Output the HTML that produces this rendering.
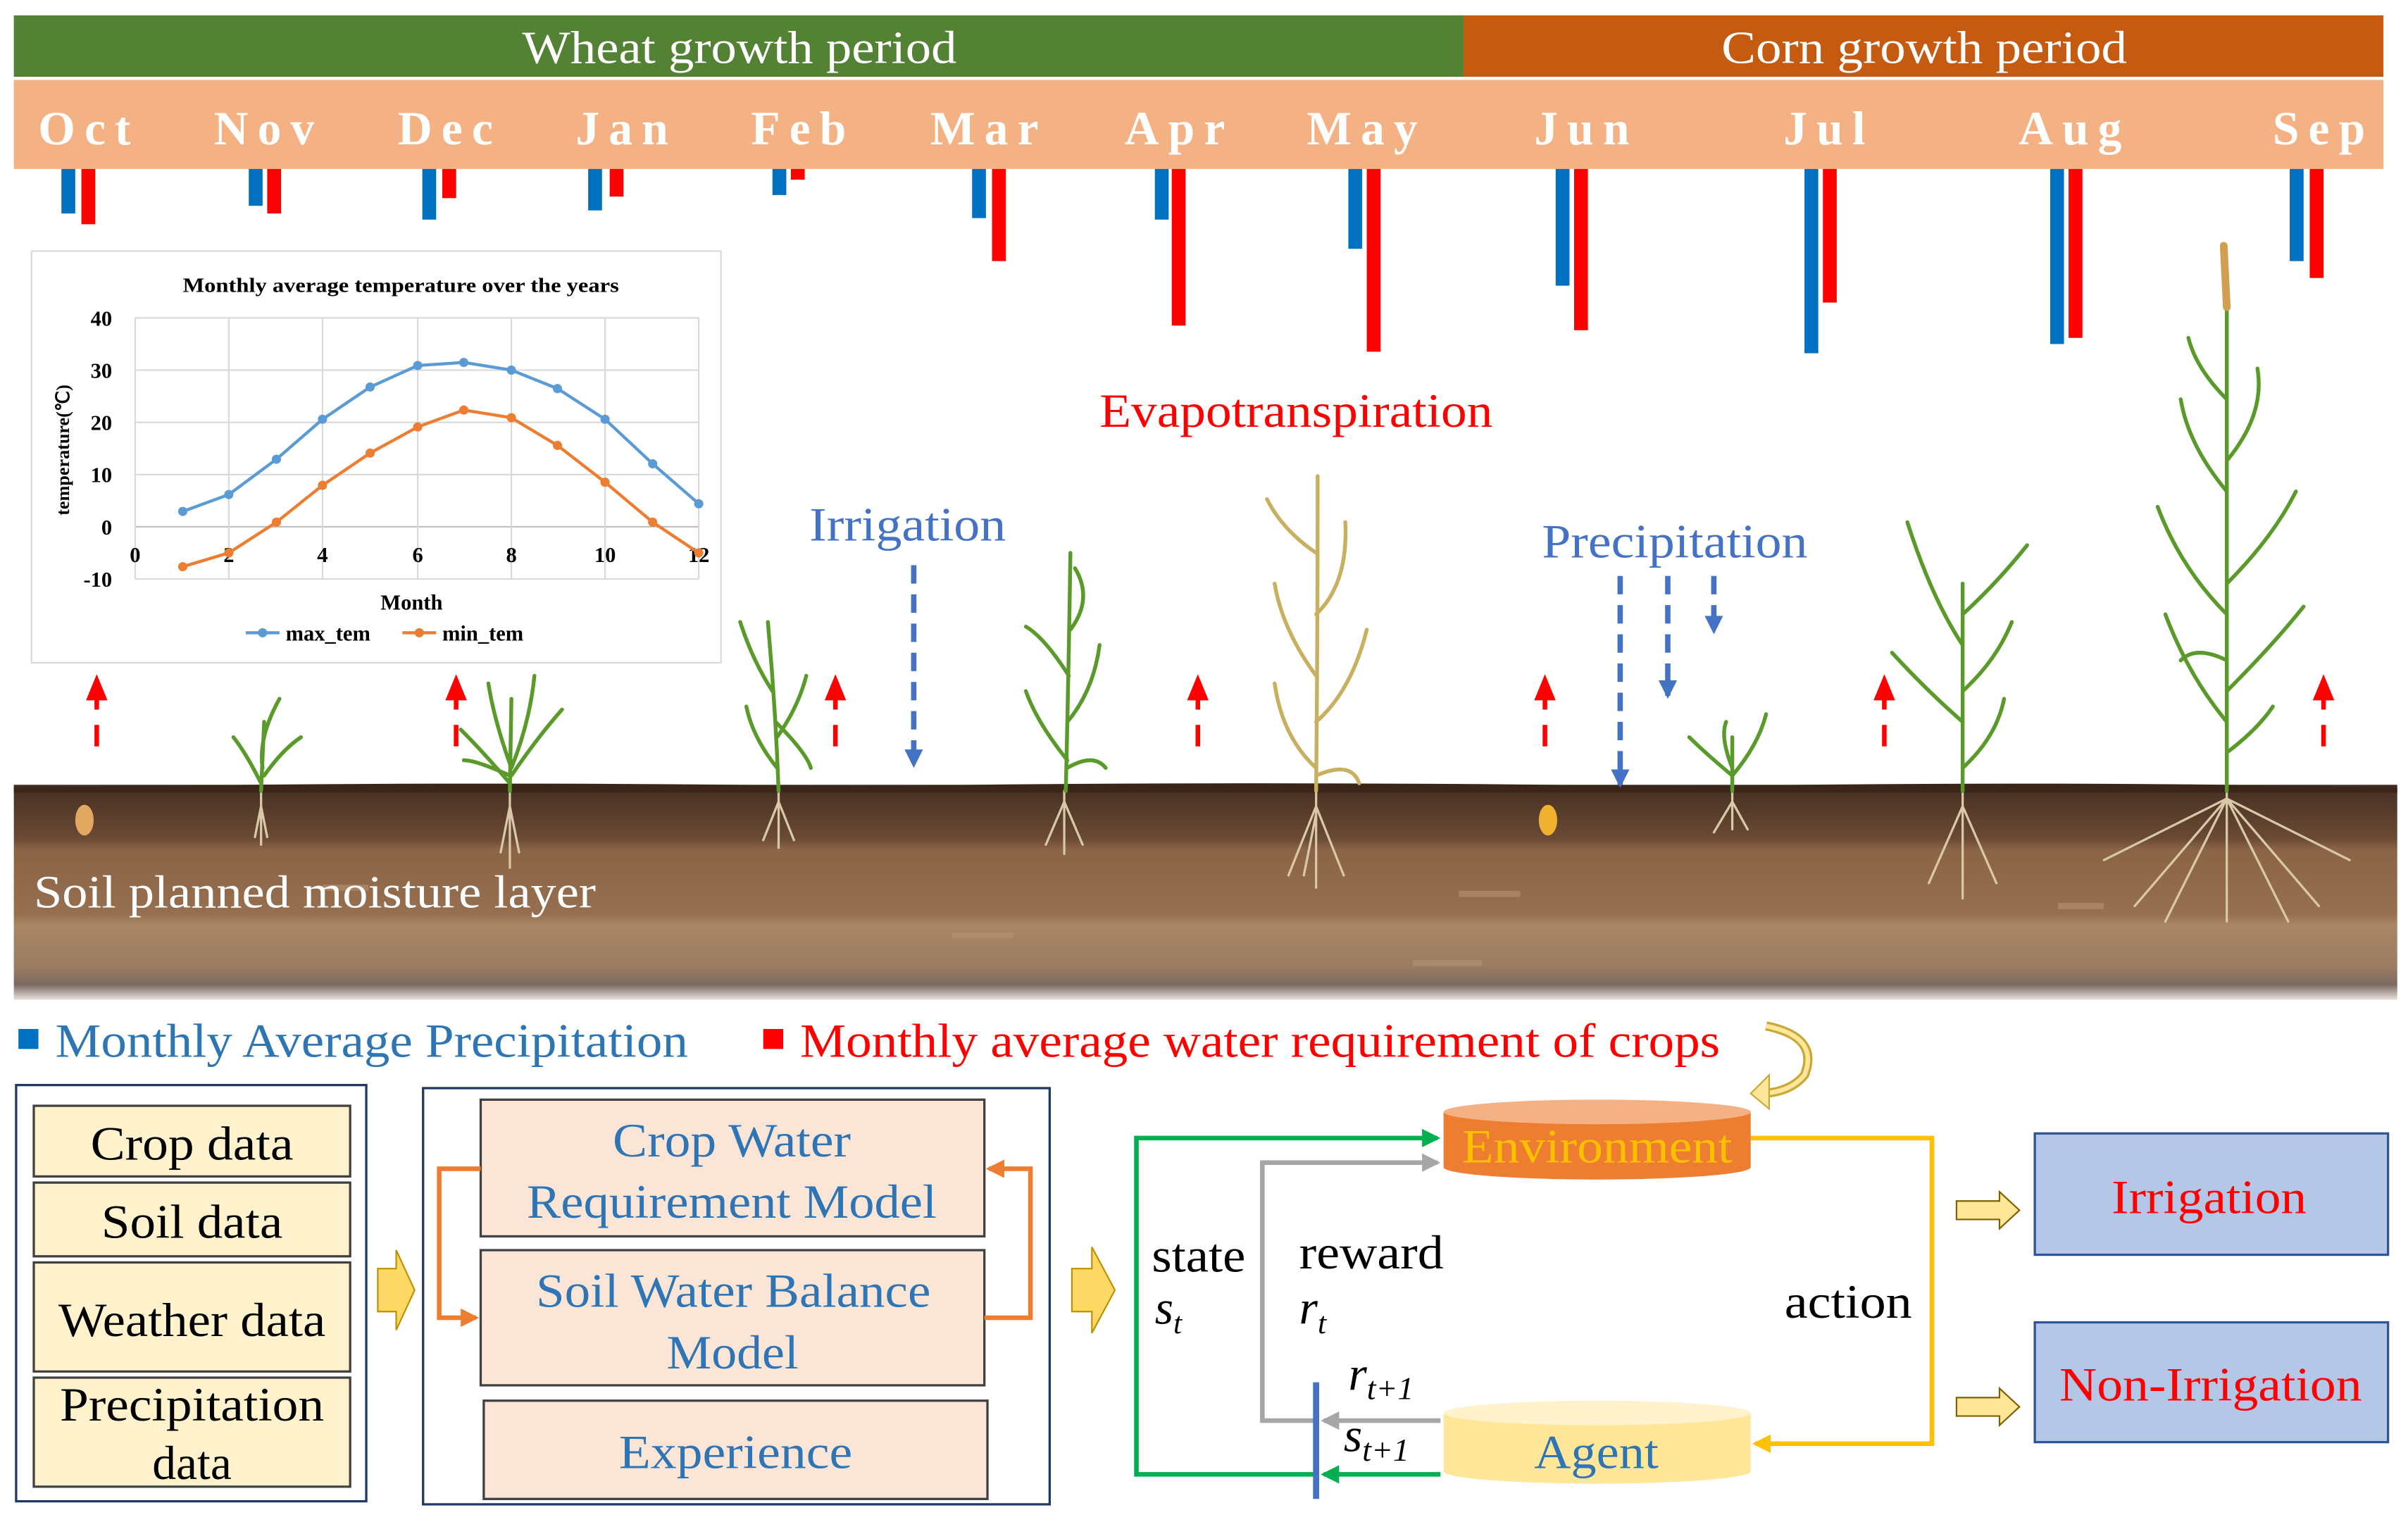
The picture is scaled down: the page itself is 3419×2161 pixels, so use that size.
<!DOCTYPE html>
<html><head><meta charset="utf-8"><style>
html,body{margin:0;padding:0;background:#fff;width:3419px;height:2161px;overflow:hidden}
svg{display:block}
text{font-family:"Liberation Serif",serif}
</style></head><body>
<svg width="3419" height="2161" viewBox="0 0 1568 991" preserveAspectRatio="none" xmlns="http://www.w3.org/2000/svg">
<defs>
<marker id="bh" markerWidth="12" markerHeight="12" refX="10" refY="6" orient="auto" markerUnits="userSpaceOnUse"><path d="M0,0 L12,6 L0,12z" fill="#4472C4"/></marker>
<marker id="gh" markerWidth="12" markerHeight="12" refX="10" refY="6" orient="auto" markerUnits="userSpaceOnUse"><path d="M0,0 L12,6 L0,12z" fill="#00B050"/></marker>
<marker id="grh" markerWidth="12" markerHeight="12" refX="10" refY="6" orient="auto" markerUnits="userSpaceOnUse"><path d="M0,0 L12,6 L0,12z" fill="#A6A6A6"/></marker>
<marker id="yh" markerWidth="12" markerHeight="12" refX="10" refY="6" orient="auto" markerUnits="userSpaceOnUse"><path d="M0,0 L12,6 L0,12z" fill="#FFC000"/></marker>
<marker id="oh" markerWidth="12" markerHeight="12" refX="10" refY="6" orient="auto" markerUnits="userSpaceOnUse"><path d="M0,0 L12,6 L0,12z" fill="#ED7D31"/></marker>
<linearGradient id="soil" x1="0" y1="0" x2="0" y2="1">
<stop offset="0" stop-color="#3e2a20"/><stop offset="0.06" stop-color="#4e3526"/>
<stop offset="0.25" stop-color="#6a4a34"/><stop offset="0.3" stop-color="#8b6446"/>
<stop offset="0.6" stop-color="#966f50"/><stop offset="0.65" stop-color="#a98665"/>
<stop offset="0.85" stop-color="#9a7c62"/><stop offset="0.93" stop-color="#7b6a62"/><stop offset="1" stop-color="#e8e2de"/>
</linearGradient>
</defs>
<rect x="9" y="10" width="944" height="40" fill="#548235"/>
<rect x="953" y="10" width="599" height="40" fill="#C55A11"/>
<text x="340" y="41" font-size="30" fill="#fff" textLength="283" lengthAdjust="spacingAndGlyphs">Wheat growth period</text>
<text x="1121" y="41" font-size="30" fill="#fff" textLength="264" lengthAdjust="spacingAndGlyphs">Corn growth period</text>
<rect x="9" y="52" width="1543" height="58" fill="#F4B183"/>
<g font-size="31" font-weight="bold" fill="#fff" letter-spacing="6" text-anchor="middle">
<text x="58" y="94">Oct</text><text x="175" y="94">Nov</text><text x="293" y="94">Dec</text><text x="408" y="94">Jan</text><text x="523" y="94">Feb</text><text x="644" y="94">Mar</text><text x="768" y="94">Apr</text><text x="890" y="94">May</text><text x="1033" y="94">Jun</text><text x="1191" y="94">Jul</text><text x="1351" y="94">Aug</text><text x="1513" y="94">Sep</text>
</g>
<g fill="#0070C0">
<rect x="40" y="110" width="9" height="29"/><rect x="162" y="110" width="9" height="24"/><rect x="275" y="110" width="9" height="33"/><rect x="383" y="110" width="9" height="27"/><rect x="503" y="110" width="9" height="17"/><rect x="633" y="110" width="9" height="32"/><rect x="752" y="110" width="9" height="33"/><rect x="878" y="110" width="9" height="52"/><rect x="1013" y="110" width="9" height="76"/><rect x="1175" y="110" width="9" height="120"/><rect x="1335" y="110" width="9" height="114"/><rect x="1491" y="110" width="9" height="60"/>
</g>
<g fill="#FF0000">
<rect x="53" y="110" width="9" height="36"/><rect x="174" y="110" width="9" height="29"/><rect x="288" y="110" width="9" height="19"/><rect x="397" y="110" width="9" height="18"/><rect x="515" y="110" width="9" height="7"/><rect x="646" y="110" width="9" height="60"/><rect x="763" y="110" width="9" height="102"/><rect x="890" y="110" width="9" height="119"/><rect x="1025" y="110" width="9" height="105"/><rect x="1187" y="110" width="9" height="87"/><rect x="1347" y="110" width="9" height="110"/><rect x="1504" y="110" width="9" height="71"/>
</g>
<rect x="20.5" y="163.5" width="449" height="268" fill="#fff" stroke="#d9d9d9"/>
<text x="119" y="190" font-size="13" font-weight="bold" textLength="284" lengthAdjust="spacingAndGlyphs">Monthly average temperature over the years</text>
<g stroke="#d9d9d9" stroke-width="1">
<line x1="88" y1="207" x2="455" y2="207"/><line x1="88" y1="241" x2="455" y2="241"/><line x1="88" y1="275" x2="455" y2="275"/><line x1="88" y1="309" x2="455" y2="309"/><line x1="88" y1="343" x2="455" y2="343" stroke="#bfbfbf"/><line x1="88" y1="377" x2="455" y2="377"/>
<line x1="88" y1="207" x2="88" y2="377"/><line x1="149" y1="207" x2="149" y2="377"/><line x1="210" y1="207" x2="210" y2="377"/><line x1="272" y1="207" x2="272" y2="377"/><line x1="333" y1="207" x2="333" y2="377"/><line x1="394" y1="207" x2="394" y2="377"/><line x1="455" y1="207" x2="455" y2="377"/>
</g>
<g font-size="14" font-weight="bold" text-anchor="end">
<text x="73" y="212">40</text><text x="73" y="246">30</text><text x="73" y="280">20</text><text x="73" y="314">10</text><text x="73" y="348">0</text><text x="73" y="382">-10</text>
</g>
<g font-size="14" font-weight="bold" text-anchor="middle">
<text x="88" y="366">0</text><text x="149" y="366">2</text><text x="210" y="366">4</text><text x="272" y="366">6</text><text x="333" y="366">8</text><text x="394" y="366">10</text><text x="455" y="366">12</text>
<text x="268" y="397" font-size="14">Month</text>
</g>
<text transform="translate(45,293) rotate(-90)" font-size="12" font-weight="bold" text-anchor="middle">temperature(℃)</text>
<polyline fill="none" stroke="#5B9BD5" stroke-width="2" points="119,333 149,322 180,299 210,273 241,252 272,238 302,236 333,241 363,253 394,273 425,302 455,328"/>
<polyline fill="none" stroke="#ED7D31" stroke-width="2" points="119,369 149,360 180,340 210,316 241,295 272,278 302,267 333,272 363,290 394,314 425,340 455,360"/>
<g fill="#5B9BD5"><circle cx="119" cy="333" r="3"/><circle cx="149" cy="322" r="3"/><circle cx="180" cy="299" r="3"/><circle cx="210" cy="273" r="3"/><circle cx="241" cy="252" r="3"/><circle cx="272" cy="238" r="3"/><circle cx="302" cy="236" r="3"/><circle cx="333" cy="241" r="3"/><circle cx="363" cy="253" r="3"/><circle cx="394" cy="273" r="3"/><circle cx="425" cy="302" r="3"/><circle cx="455" cy="328" r="3"/></g>
<g fill="#ED7D31"><circle cx="119" cy="369" r="3"/><circle cx="149" cy="360" r="3"/><circle cx="180" cy="340" r="3"/><circle cx="210" cy="316" r="3"/><circle cx="241" cy="295" r="3"/><circle cx="272" cy="278" r="3"/><circle cx="302" cy="267" r="3"/><circle cx="333" cy="272" r="3"/><circle cx="363" cy="290" r="3"/><circle cx="394" cy="314" r="3"/><circle cx="425" cy="340" r="3"/><circle cx="455" cy="360" r="3"/></g>
<line x1="160" y1="412" x2="182" y2="412" stroke="#5B9BD5" stroke-width="2"/><circle cx="171" cy="412" r="3" fill="#5B9BD5"/>
<text x="186" y="417" font-size="14" font-weight="bold">max_tem</text>
<line x1="262" y1="412" x2="284" y2="412" stroke="#ED7D31" stroke-width="2"/><circle cx="273" cy="412" r="3" fill="#ED7D31"/>
<text x="288" y="417" font-size="14" font-weight="bold">min_tem</text>
<rect x="9" y="511" width="1552" height="140" fill="url(#soil)"/>
<path d="M9,513 Q300,508 560,512 Q800,508 1100,512 Q1350,508 1561,513 L1561,516 L9,516z" fill="#3a2518"/>
<g fill="#b59373" opacity="0.6"><rect x="210" y="576" width="30" height="4"/><rect x="620" y="607" width="40" height="4"/><rect x="920" y="625" width="45" height="4"/><rect x="950" y="580" width="40" height="4"/><rect x="1340" y="588" width="30" height="4"/></g>
<text x="22" y="591" font-size="30" fill="#fff" textLength="366" lengthAdjust="spacingAndGlyphs">Soil planned moisture layer</text>
<ellipse cx="55" cy="534" rx="6" ry="10" fill="#e0a860"/>
<ellipse cx="1008" cy="534" rx="6" ry="10" fill="#f0b030"/>
<g fill="none" stroke-linecap="round">
<g stroke="#d8c8a8" stroke-width="1.5"><path d="M170,515 L170,550 M170,525 l-4,20 M170,525 l4,20"/><path d="M332,515 L332,565 M332,525 l-6,30 M332,525 l6,30"/><path d="M507,515 L507,552 M507,522 l-10,25 M507,522 l10,25"/><path d="M693,515 L693,556 M693,522 l-12,28 M693,522 l12,28"/><path d="M857,515 L857,578 M857,525 l-18,45 M857,525 l18,45 M857,530 l-8,40"/><path d="M1128,515 L1128,540 M1128,522 l-12,20 M1128,522 l10,18"/><path d="M1278,515 L1278,585 M1278,525 l-22,50 M1278,525 l22,50"/><path d="M1450,515 L1450,600 M1450,520 l-60,70 M1450,520 l60,70 M1450,520 l-40,80 M1450,520 l40,80 M1450,520 l-80,40 M1450,520 l80,40"/></g>
<g stroke="#5a9a2a" stroke-width="2.5">
<path d="M170,515 L172,470 M170,510 Q160,490 152,480 M172,505 Q184,488 196,480 M171,500 Q168,480 182,455"/>
<path d="M332,515 L333,455 M332,510 Q315,490 300,475 M333,505 Q350,480 366,462 M333,500 Q322,470 318,445 M333,500 Q345,470 348,440 M332,505 Q310,495 302,495"/>
<path d="M507,515 Q505,460 500,405 M506,500 Q490,480 486,460 M506,480 Q520,460 525,440 M503,450 Q490,430 482,405 M505,470 Q525,490 528,500"/>
<path d="M694,515 Q696,430 697,360 M695,495 Q675,470 668,450 M695,470 Q712,450 716,420 M696,440 Q680,415 668,408 M697,410 Q712,390 700,370 M695,500 Q712,490 720,500"/>
<path d="M1128,515 L1128,480 M1128,505 Q1110,490 1100,480 M1128,505 Q1145,485 1150,465 M1128,500 Q1120,480 1124,470"/>
<path d="M1278,515 L1278,380 M1278,470 Q1255,450 1232,425 M1278,450 Q1300,430 1310,405 M1278,420 Q1258,390 1242,340 M1278,400 Q1300,380 1320,355 M1278,500 Q1300,480 1305,455"/>
<path d="M1450,515 L1450,200 M1450,470 Q1425,440 1410,400 M1450,450 Q1480,420 1500,395 M1450,400 Q1420,370 1405,330 M1450,380 Q1480,350 1495,320 M1450,320 Q1425,290 1420,260 M1450,300 Q1475,270 1470,240 M1450,260 Q1430,240 1425,220 M1450,490 Q1470,475 1480,460 M1450,430 Q1430,420 1420,430"/>
</g>
<g stroke="#c9b060" stroke-width="2.5">
<path d="M857,515 Q858,420 858,310 M857,500 Q835,480 830,445 M857,470 Q880,450 890,410 M857,440 Q835,410 830,380 M857,400 Q878,380 876,340 M857,360 Q835,345 825,325 M857,505 Q880,495 885,510"/>
<path d="M1450,200 L1448,160" stroke="#d0a050" stroke-width="5"/>
</g>
</g>
<g stroke="#f00" stroke-width="3" stroke-dasharray="14,10">
<line x1="63" y1="486" x2="63" y2="452"/><line x1="297" y1="486" x2="297" y2="452"/><line x1="544" y1="486" x2="544" y2="452"/><line x1="780" y1="486" x2="780" y2="452"/><line x1="1006" y1="486" x2="1006" y2="452"/><line x1="1227" y1="486" x2="1227" y2="452"/><line x1="1513" y1="486" x2="1513" y2="452"/>
</g>
<g fill="#f00"><path d="M56,456 L63,439 L70,456z"/><path d="M290,456 L297,439 L304,456z"/><path d="M537,456 L544,439 L551,456z"/><path d="M773,456 L780,439 L787,456z"/><path d="M999,456 L1006,439 L1013,456z"/><path d="M1220,456 L1227,439 L1234,456z"/><path d="M1506,456 L1513,439 L1520,456z"/></g>
<text x="716" y="278" font-size="31" fill="#f00" textLength="256" lengthAdjust="spacingAndGlyphs">Evapotranspiration</text>
<text x="527" y="352" font-size="31" fill="#4472C4" textLength="128" lengthAdjust="spacingAndGlyphs">Irrigation</text>
<text x="1004" y="363" font-size="31" fill="#4472C4" textLength="173" lengthAdjust="spacingAndGlyphs">Precipitation</text>
<g stroke="#4472C4" stroke-width="3.5" stroke-dasharray="12,7" marker-end="url(#bh)">
<line x1="595" y1="368" x2="595" y2="498"/><line x1="1055" y1="375" x2="1055" y2="511"/><line x1="1086" y1="375" x2="1086" y2="453"/><line x1="1116" y1="375" x2="1116" y2="411"/>
</g>
<rect x="12" y="670" width="13" height="13" fill="#0070C0"/>
<text x="36" y="688" font-size="31" fill="#2E75B6" textLength="412" lengthAdjust="spacingAndGlyphs">Monthly Average Precipitation</text>
<rect x="497" y="670" width="13" height="13" fill="#f00"/>
<text x="521" y="688" font-size="31" fill="#f00" textLength="599" lengthAdjust="spacingAndGlyphs">Monthly average water requirement of crops</text>
<path d="M1150,668 Q1185,675 1175,700 Q1165,712 1145,712" fill="none" stroke="#c9a838" stroke-width="6"/>
<path d="M1150,668 Q1185,675 1175,700 Q1165,712 1145,712" fill="none" stroke="#ffe699" stroke-width="3"/>
<path d="M1152,700 L1140,712 L1152,722z" fill="#ffe699" stroke="#c9a838"/>
<rect x="10.5" y="706.5" width="228" height="271" fill="#fff" stroke="#203864" stroke-width="1.5"/>
<g fill="#FFF2CC" stroke="#404040" stroke-width="1.5">
<rect x="22" y="720" width="206" height="46"/><rect x="22" y="770" width="206" height="48"/><rect x="22" y="822" width="206" height="71"/><rect x="22" y="897" width="206" height="71"/>
</g>
<g font-size="31" fill="#000" lengthAdjust="spacingAndGlyphs">
<text x="59" y="755" textLength="132" lengthAdjust="spacingAndGlyphs">Crop data</text>
<text x="66" y="806" textLength="118" lengthAdjust="spacingAndGlyphs">Soil data</text>
<text x="38" y="870" textLength="174" lengthAdjust="spacingAndGlyphs">Weather data</text>
<text x="39" y="925" textLength="172" lengthAdjust="spacingAndGlyphs">Precipitation</text>
<text x="125" y="963" text-anchor="middle">data</text>
</g>
<path d="M246,826 L258,826 L258,814 L270,840 L258,866 L258,854 L246,854z" fill="#FFD966" stroke="#BF9000" stroke-width="1"/>
<rect x="275.5" y="708.5" width="408" height="271" fill="#fff" stroke="#203864" stroke-width="1.5"/>
<g fill="#FBE5D6" stroke="#404040" stroke-width="1.5">
<rect x="313" y="716" width="328" height="89"/><rect x="313" y="814" width="328" height="88"/><rect x="315" y="912" width="328" height="64"/>
</g>
<g font-size="31" fill="#2E75B6">
<text x="399" y="753" textLength="155" lengthAdjust="spacingAndGlyphs">Crop Water</text>
<text x="343" y="793" textLength="267" lengthAdjust="spacingAndGlyphs">Requirement Model</text>
<text x="349" y="851" textLength="257" lengthAdjust="spacingAndGlyphs">Soil Water Balance</text>
<text x="434" y="891" textLength="86" lengthAdjust="spacingAndGlyphs">Model</text>
<text x="403" y="956" textLength="152" lengthAdjust="spacingAndGlyphs">Experience</text>
</g>
<polyline points="313,761 286,761 286,858 310,858" fill="none" stroke="#ED7D31" stroke-width="3" marker-end="url(#oh)"/>
<polyline points="641,858 671,858 671,761 644,761" fill="none" stroke="#ED7D31" stroke-width="3" marker-end="url(#oh)"/>
<path d="M698,826 L711,826 L711,812 L726,840 L711,868 L711,854 L698,854z" fill="#FFD966" stroke="#BF9000" stroke-width="1"/>
<polyline points="857,960 740,960 740,741 936,741" fill="none" stroke="#00B050" stroke-width="3" marker-end="url(#gh)"/>
<line x1="938" y1="960" x2="862" y2="960" stroke="#00B050" stroke-width="3" marker-end="url(#gh)"/>
<polyline points="857,925 822,925 822,757 936,757" fill="none" stroke="#A6A6A6" stroke-width="3" marker-end="url(#grh)"/>
<line x1="938" y1="925" x2="862" y2="925" stroke="#A6A6A6" stroke-width="3" marker-end="url(#grh)"/>
<polyline points="1140,741 1258,741 1258,940 1143,940" fill="none" stroke="#FFC000" stroke-width="3" marker-end="url(#yh)"/>
<line x1="857" y1="900" x2="857" y2="976" stroke="#4472C4" stroke-width="4"/>
<path d="M940,724 L940,760 A100,8 0 0 0 1140,760 L1140,724z" fill="#ED7D31"/>
<ellipse cx="1040" cy="724" rx="100" ry="8" fill="#F4B183"/>
<text x="952" y="757" font-size="31" fill="#FFC000" textLength="176" lengthAdjust="spacingAndGlyphs">Environment</text>
<path d="M940,920 L940,958 A100,8 0 0 0 1140,958 L1140,920z" fill="#FFE699"/>
<ellipse cx="1040" cy="920" rx="100" ry="8" fill="#FFF2CC"/>
<text x="999" y="956" font-size="31" fill="#2E75B6" textLength="81" lengthAdjust="spacingAndGlyphs">Agent</text>
<g font-size="31" fill="#000">
<text x="750" y="828" textLength="61" lengthAdjust="spacingAndGlyphs">state</text>
<text x="752" y="862" font-style="italic">s<tspan font-size="20" dy="6">t</tspan></text>
<text x="846" y="826" textLength="94" lengthAdjust="spacingAndGlyphs">reward</text>
<text x="846" y="862" font-style="italic">r<tspan font-size="20" dy="6">t</tspan></text>
<text x="1162" y="858" textLength="83" lengthAdjust="spacingAndGlyphs">action</text>
<text x="878" y="905" font-style="italic">r<tspan font-size="21" dy="6">t+1</tspan></text>
<text x="875" y="945" font-style="italic">s<tspan font-size="21" dy="6">t+1</tspan></text>
</g>
<path d="M1274,782 L1302,782 L1302,776 L1315,788 L1302,800 L1302,794 L1274,794z" fill="#FFE699" stroke="#7f6000" stroke-width="1"/>
<path d="M1274,910 L1302,910 L1302,904 L1315,916 L1302,928 L1302,922 L1274,922z" fill="#FFE699" stroke="#7f6000" stroke-width="1"/>
<rect x="1325" y="738" width="230" height="79" fill="#B4C7E7" stroke="#2F5597" stroke-width="1.5"/>
<rect x="1325" y="861" width="230" height="78" fill="#B4C7E7" stroke="#2F5597" stroke-width="1.5"/>
<text x="1375" y="790" font-size="31" fill="#f00" textLength="127" lengthAdjust="spacingAndGlyphs">Irrigation</text>
<text x="1341" y="912" font-size="31" fill="#f00" textLength="197" lengthAdjust="spacingAndGlyphs">Non-Irrigation</text>
</svg>
</body></html>
